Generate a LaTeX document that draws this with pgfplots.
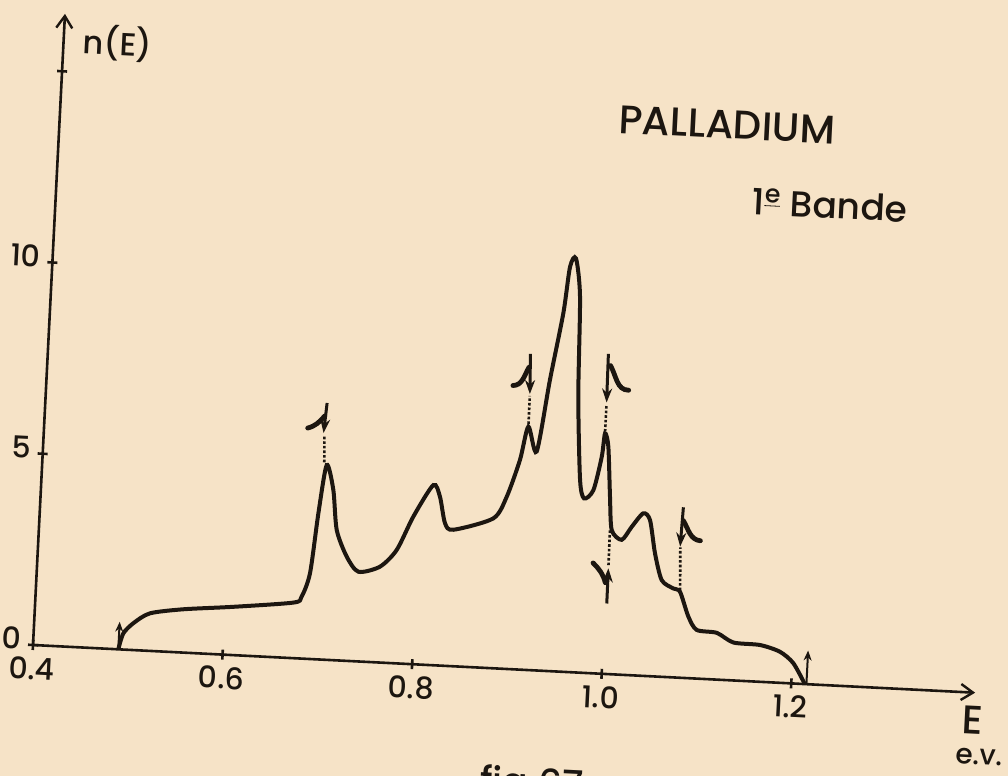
\documentclass[border=0pt]{standalone}
\usepackage{fontspec}
\setmainfont{Poppins}[BoldFont={* Medium}]
\usepackage{pgfplots}
\pgfplotsset{compat=1.18}
\usetikzlibrary{arrows.meta,backgrounds}
\definecolor{paper}{RGB}{246,227,199}
\definecolor{ink}{RGB}{28,22,16}
\begin{document}
\begin{tikzpicture}[font=\bfseries]
\tikzset{
  sym/.style={line width=2.4pt, ink, line cap=round},
  arr/.style={line width=1.5pt, ink, -{Stealth[length=7pt,width=5pt]}},
  dots/.style={line width=1.3pt, ink, densely dotted},
}
\begin{axis}[
  x={(473.9pt,-24.0pt)}, y={(0.969pt,19.125pt)},
  xmin=0.4, xmax=1.394, ymin=0, ymax=16.5,
  axis lines=left,
  axis line style={line width=1.3pt, ink, -{Straight Barb[length=6pt,width=8pt,line width=1.2pt]}},
  clip=false,
  xtick={0.4,0.6,0.8,1.0,1.2},
  xticklabels={0.4,0.6,0.8,1.0,1.2},
  ytick={0,5,10,15},
  yticklabels={0,5,10,{}},
  major tick length=5pt,
  tick align=center,
  tick style={line width=1.3pt, ink},
  ticklabel style={font=\bfseries\fontsize{15}{15}\selectfont, text=ink, rotate=-2.9},
  yticklabel style={yshift=3pt},
  /pgf/number format/assume math mode=true,
]
\coordinate (O) at (axis cs:0.4,0);
\addplot[ink, line width=2pt, smooth, tension=0.45] coordinates {
(0.490,0.0) (0.4944,0.42) (0.5044,0.70) (0.5214,0.98) (0.5563,1.13)
(0.6087,1.26) (0.6718,1.45) (0.680,1.61) (0.6877,2.24) (0.6933,3.81)
(0.6995,5.08) (0.7078,4.44) (0.7135,3.40) (0.7254,2.72) (0.7385,2.34)
(0.7609,2.50) (0.7777,2.96) (0.7934,3.85) (0.8128,4.70) (0.8204,4.40)
(0.8271,3.72) (0.8362,3.56) (0.8777,3.91) (0.8906,4.49) (0.9026,5.47)
(0.9097,6.35) (0.9197,5.71) (0.9299,7.60) (0.9404,9.35) (0.9450,10.57)
(0.9508,10.80) (0.9571,9.80) (0.9606,7.20) (0.9669,5.03) (0.9721,4.55)
(0.9815,4.78) (0.9885,5.66) (0.9907,6.27) (0.9949,5.93) (0.9993,4.63)
(1.0029,3.76) (1.0139,3.52) (1.0237,3.87) (1.0352,4.24) (1.0427,4.07)
(1.0497,3.21) (1.0582,2.52) (1.0708,2.32) (1.0781,2.24) (1.0881,1.61)
(1.0976,1.27) (1.1189,1.22) (1.1369,0.99) (1.165,0.96) (1.1864,0.81)
(1.2011,0.53) (1.2143,0.0)
};
% band edges
\draw[line width=1pt, ink, -{Stealth[length=5pt,width=4pt]}] (0.490,0) -- (0.490,0.72);
\draw[line width=1pt, ink, -{Stealth[length=5pt,width=4pt]}] (1.216,0) -- (1.216,0.88);
% singularity markers
\draw[dots] (0.6968,5.15) -- (0.6955,5.85);
\draw[arr] (0.6966,6.70) -- (0.6945,5.91);
\draw[sym] (0.6948,6.36) to[out=230,in=15] (0.6775,6.02);
\draw[dots] (0.9097,6.42) -- (0.9095,7.15);
\draw[arr] (0.9080,8.25) -- (0.9095,7.20);
\draw[sym] (0.9072,7.90) to[out=240,in=0] (0.8912,7.40);
\draw[dots] (0.9907,6.32) -- (0.9907,7.03);
\draw[arr] (0.9900,8.35) -- (0.9907,7.08);
\draw[sym] (0.9928,8.05) to[out=-60,in=180] (1.0133,7.43);
\draw[dots] (1.0010,3.75) -- (1.0014,2.80);
\draw[arr] (1.0016,1.84) -- (1.0014,2.76);
\draw[sym] (0.9850,2.88) to[out=-45,in=105] (0.9990,2.38);
\draw[dots] (1.0781,2.28) -- (1.0760,3.40);
\draw[arr] (1.0771,4.45) -- (1.0758,3.42);
\draw[sym] (1.0779,4.10) to[out=-60,in=175] (1.0968,3.60);
% texts
\node[rotate=-2.9, text=ink, font=\bfseries\fontsize{16}{16}\selectfont] at (0.457,15.8) {n(E)};
\node[rotate=-2.9, text=ink, font=\bfseries\fontsize{20}{20}\selectfont] at (1.1026,14.48) {PALLADIUM};
\node[rotate=-2.9, text=ink, font=\bfseries\fontsize{18}{18}\selectfont] at (1.215,12.52) {1\textsuperscript{\underline{e}} Bande};
\node[rotate=-2.9, text=ink, font=\bfseries\fontsize{20}{20}\selectfont] at (1.393,-0.71) {E};
\node[rotate=-2.9, text=ink, font=\bfseries\fontsize{14}{14}\selectfont] at (1.4016,-1.67) {e.v.};
\node[overlay, anchor=north, rotate=-2.9, text=ink, font=\bfseries\fontsize{19}{19}\selectfont] at (0.9323,-2.34) {fig 67};
\end{axis}
\pgfresetboundingbox
\path[use as bounding box] ([shift={(-16.5pt,-65.5pt)}]O) rectangle ([shift={(487.5pt,322.5pt)}]O);
\begin{scope}[on background layer]
\fill[paper] ([shift={(-16.5pt,-65.5pt)}]O) rectangle ([shift={(487.5pt,322.5pt)}]O);
\end{scope}
\end{tikzpicture}
\end{document}
